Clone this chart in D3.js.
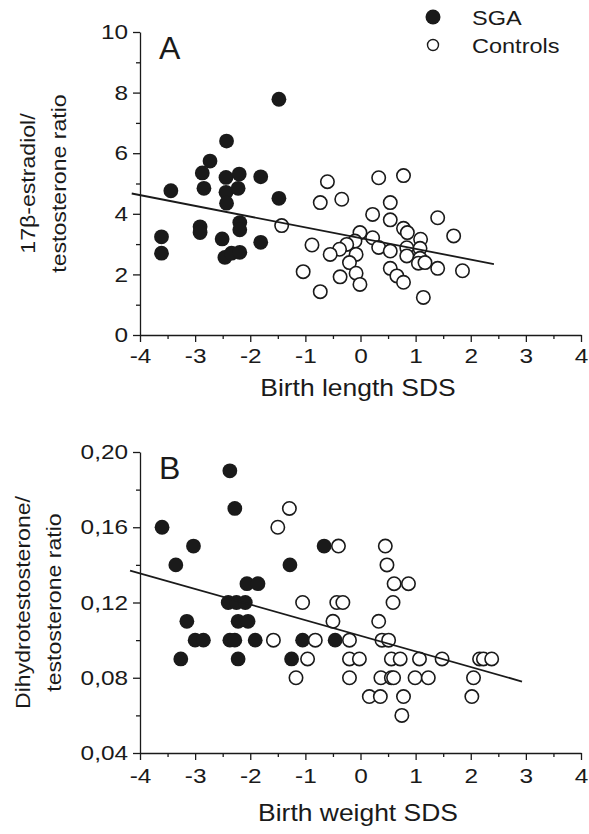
<!DOCTYPE html>
<html>
<head>
<meta charset="utf-8">
<script src="https://cdn.jsdelivr.net/npm/d3@7"></script>
<style>
  html, body { margin: 0; padding: 0; background: #fff; }
  svg { display: block; font-family: "Liberation Sans", Arial, sans-serif; }
</style>
</head>
<body>
<svg id="chart" width="589" height="834"></svg>
<script>
// Panel A: birth length SDS vs 17β-estradiol/testosterone ratio
const sgaA = [
  [-1.48, 7.78], [-2.43, 6.40], [-2.73, 5.74], [-2.87, 5.35], [-2.44, 5.20],
  [-2.20, 5.31], [-1.81, 5.22], [-3.44, 4.76], [-2.84, 4.84], [-2.44, 4.71],
  [-2.22, 4.84], [-2.43, 4.35], [-1.48, 4.51], [-2.19, 3.71], [-2.19, 3.47],
  [-2.91, 3.57], [-2.91, 3.38], [-2.51, 3.17], [-1.81, 3.06], [-3.61, 3.24],
  [-3.61, 2.70], [-2.46, 2.56], [-2.34, 2.70], [-2.19, 2.73]
];
const controlsA = [
  [-1.43, 3.61], [-0.60, 5.06], [0.33, 5.19], [0.78, 5.26], [-0.73, 4.37],
  [-0.34, 4.48], [0.54, 4.37], [0.22, 3.98], [0.54, 3.80], [1.40, 3.87],
  [1.69, 3.27], [0.78, 3.52], [0.85, 3.38], [1.09, 3.16], [-0.01, 3.38],
  [0.22, 3.21], [-0.10, 3.10], [0.33, 2.89], [0.54, 2.77], [0.84, 2.88],
  [0.84, 2.61], [1.08, 2.86], [1.08, 2.53], [-0.25, 2.99], [-0.38, 2.83],
  [-0.55, 2.66], [-0.08, 2.66], [-0.88, 2.97], [-0.20, 2.39], [1.05, 2.37],
  [1.17, 2.39], [1.40, 2.20], [1.85, 2.12], [-1.04, 2.09], [-0.37, 1.92],
  [-0.08, 2.04], [0.54, 2.20], [0.66, 1.95], [0.78, 1.74], [-0.01, 1.67],
  [-0.73, 1.43], [1.14, 1.24]
];
const fitA = [[-4.15, 4.67], [2.42, 2.34]];

// Panel B: birth weight SDS vs dihydrotestosterone/testosterone ratio
const sgaB = [
  [-2.37, 0.19], [-2.28, 0.17], [-3.60, 0.16], [-3.03, 0.15], [-0.66, 0.15],
  [-3.35, 0.14], [-1.28, 0.14], [-2.06, 0.13], [-1.86, 0.13],
  [-2.40, 0.12], [-2.25, 0.12], [-2.09, 0.12],
  [-3.15, 0.11], [-2.22, 0.11], [-2.04, 0.11],
  [-3.00, 0.10], [-2.85, 0.10], [-2.37, 0.10], [-2.28, 0.10], [-1.91, 0.10],
  [-1.05, 0.10], [-0.46, 0.10],
  [-3.26, 0.09], [-2.22, 0.09], [-1.25, 0.09]
];
const controlsB = [
  [-1.29, 0.17], [-1.50, 0.16], [-0.40, 0.15], [0.45, 0.15], [0.48, 0.14],
  [0.61, 0.13], [0.87, 0.13],
  [-1.05, 0.12], [-0.43, 0.12], [-0.32, 0.12], [0.59, 0.12],
  [-0.50, 0.11], [0.33, 0.11],
  [-1.58, 0.10], [-0.82, 0.10], [-0.20, 0.10], [0.39, 0.10], [0.51, 0.10],
  [-0.96, 0.09], [-0.20, 0.09], [-0.02, 0.09], [0.56, 0.09], [0.72, 0.09],
  [1.07, 0.09], [1.48, 0.09], [2.16, 0.09], [2.23, 0.09], [2.38, 0.09],
  [-1.17, 0.08], [-0.20, 0.08], [0.37, 0.08], [0.56, 0.08], [0.60, 0.08],
  [0.99, 0.08], [1.23, 0.08], [2.05, 0.08],
  [0.16, 0.07], [0.36, 0.07], [0.78, 0.07], [2.02, 0.07],
  [0.75, 0.06]
];
const fitB = [[-4.18, 0.137], [2.93, 0.078]];

// Axis ticks and labels
const xMajor = [-4, -3, -2, -1, 0, 1, 2, 3, 4];
const xMinor = [-3.5, -2.5, -1.5, -0.5, 0.5, 1.5, 2.5, 3.5];
const yMajorA = [0, 2, 4, 6, 8, 10];
const yMinorA = [1, 3, 5, 7, 9];
const yMajorB = [0.04, 0.08, 0.12, 0.16, 0.20];
const yMinorB = [0.06, 0.10, 0.14, 0.18];
const legendLabels = ["SGA", "Controls"];

const ink = "#1a1a1a";
const commaLocale = d3.formatLocale({ decimal: ",", thousands: ".", grouping: [3], currency: ["", ""] });
const fmtB = commaLocale.format(".2f");

const svg = d3.select("#chart");

// widen text horizontally (the typeface used in the figure runs wide)
function widen(sel, k) {
  sel.each(function () {
    const t = d3.select(this);
    const x = +(t.attr("x") || 0);
    t.attr("x", x / k).attr("transform", `scale(${k},1)`);
  });
}

function drawPanel(cfg) {
  const g = svg.append("g");
  const x = d3.scaleLinear().domain([-4, 4]).range([140, 581]);
  const y = d3.scaleLinear().domain(cfg.yDomain).range([cfg.yBottom, cfg.yTop]);

  // minor ticks
  g.append("g").attr("transform", `translate(0,${cfg.yBottom})`)
    .call(d3.axisBottom(x).tickValues(xMinor).tickSize(4).tickFormat("").tickSizeOuter(0))
    .call(a => a.select(".domain").remove());
  g.append("g").attr("transform", "translate(140,0)")
    .call(d3.axisLeft(y).tickValues(cfg.yMinor).tickSize(4).tickFormat("").tickSizeOuter(0))
    .call(a => a.select(".domain").remove());

  // major axes
  const xa = g.append("g").attr("transform", `translate(0,${cfg.yBottom})`)
    .call(d3.axisBottom(x).tickValues(xMajor).tickSize(7).tickPadding(cfg.xPad).tickSizeOuter(0)
      .tickFormat(d => d3.format("d")(d).replace("−", "-")));
  const ya = g.append("g").attr("transform", "translate(140,0)")
    .call(d3.axisLeft(y).tickValues(cfg.yMajor).tickSize(7).tickPadding(5).tickSizeOuter(0).tickFormat(cfg.yFormat));
  [xa, ya].forEach(a => {
    a.selectAll("path, line").attr("stroke", ink).attr("stroke-width", 1.3);
    a.selectAll("text").attr("fill", ink).style("font-size", "21px")
      .style("font-family", "Liberation Sans, Arial, sans-serif");
    widen(a.selectAll("text"), 1.16);
  });
  g.selectAll(".tick line").attr("stroke", ink).attr("stroke-width", 1.3);

  // points
  g.append("g").selectAll("circle").data(cfg.sga).join("circle")
    .attr("cx", d => x(d[0])).attr("cy", d => y(d[1])).attr("r", 7.4)
    .attr("fill", ink);
  g.append("g").selectAll("circle").data(cfg.controls).join("circle")
    .attr("cx", d => x(d[0])).attr("cy", d => y(d[1])).attr("r", 6.7)
    .attr("fill", "#fff").attr("stroke", ink).attr("stroke-width", 1.6);

  // regression line
  g.append("path").datum(cfg.fit)
    .attr("d", d3.line().x(d => x(d[0])).y(d => y(d[1])))
    .attr("fill", "none").attr("stroke", ink).attr("stroke-width", 1.8);

  // panel letter
  g.append("text").attr("x", 159).attr("y", cfg.yTop + 27)
    .style("font-size", "32px").attr("fill", ink).text(cfg.letter);

  // x title
  const xt = g.append("text").attr("x", 358).attr("y", cfg.yBottom + cfg.titleGap)
    .attr("text-anchor", "middle").style("font-size", "23px").attr("fill", ink)
    .text("Birth " + cfg.xName + " SDS");
  widen(xt, 1.15);

  // y title (two lines)
  const cy = (cfg.yBottom + cfg.yTop) / 2;
  cfg.yTitle.forEach((t, i) => {
    g.append("text")
      .attr("transform", `translate(${cfg.yTitleX[i]},${cy}) rotate(-90) scale(1.1,1)`)
      .attr("text-anchor", "middle").style("font-size", "21px").attr("fill", ink)
      .text(t);
  });
}

drawPanel({
  letter: "A", xName: "length", yDomain: [0, 10], yTop: 32, yBottom: 335,
  yMajor: yMajorA, yMinor: yMinorA, yFormat: d3.format("d"), xPad: 6, titleGap: 61,
  sga: sgaA, controls: controlsA, fit: fitA,
  yTitle: ["17β-estradiol/", "testosterone ratio"], yTitleX: [35, 66]
});
drawPanel({
  letter: "B", xName: "weight", yDomain: [0.04, 0.20], yTop: 452, yBottom: 753,
  yMajor: yMajorB, yMinor: yMinorB, yFormat: fmtB, xPad: 8, titleGap: 68,
  sga: sgaB, controls: controlsB, fit: fitB,
  yTitle: ["Dihydrotestosterone/", "testosterone ratio"], yTitleX: [30, 61]
});

// legend
const leg = svg.append("g");
leg.append("circle").attr("cx", 433).attr("cy", 17).attr("r", 7.5).attr("fill", ink);
leg.append("circle").attr("cx", 433).attr("cy", 45).attr("r", 5.5).attr("fill", "#fff")
  .attr("stroke", ink).attr("stroke-width", 1.4);
const legText = leg.selectAll("text").data(legendLabels).join("text")
  .attr("x", 472).attr("y", (d, i) => 25 + i * 28)
  .style("font-size", "21px").attr("fill", ink).text(d => d);
widen(legText, 1.12);
</script>
</body>
</html>
